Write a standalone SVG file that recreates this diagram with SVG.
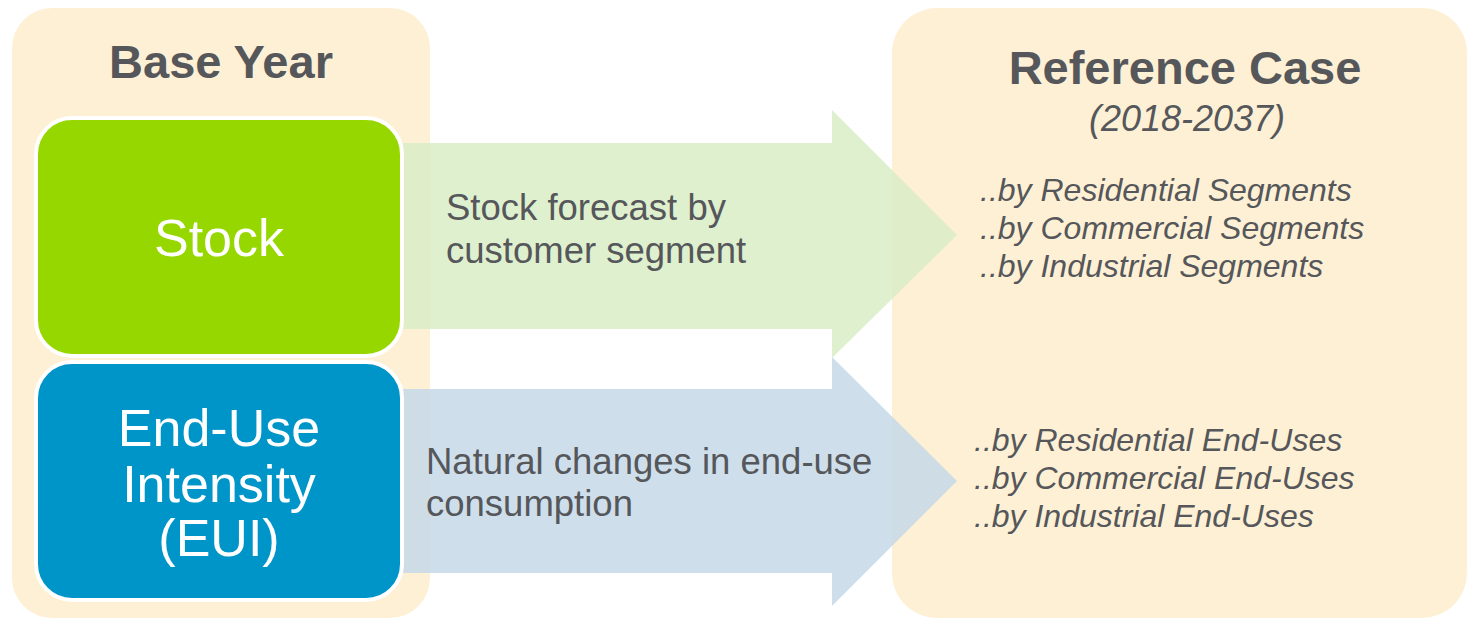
<svg xmlns="http://www.w3.org/2000/svg" width="1469" height="620" viewBox="0 0 1469 620">
<style>
.panel{fill:#FEF0D5}
.box{stroke:#FFFFFF;stroke-width:4}
.title{font-family:"Liberation Sans",Arial,sans-serif;font-weight:bold;font-size:47px;fill:#55575A;text-anchor:middle}
.boxlbl{font-family:"Liberation Sans",Arial,sans-serif;font-size:52px;fill:#FFFFFF;text-anchor:middle}
.arrlbl{font-family:"Liberation Sans",Arial,sans-serif;font-size:36.5px;fill:#55575A}
.item{font-family:"Liberation Sans",Arial,sans-serif;font-style:italic;font-size:32px;fill:#55575A}
.sub{font-family:"Liberation Sans",Arial,sans-serif;font-style:italic;font-size:36px;fill:#55575A;text-anchor:middle}
</style>
<rect width="1469" height="620" fill="#FFFFFF"/>
<g id="base-year">
<rect class="panel" x="12" y="8" width="418" height="610" rx="40"/>
<text class="title" x="221" y="78">Base Year</text>
</g>
<g id="reference-case">
<rect class="panel" x="892" y="8" width="575" height="610" rx="45"/>
</g>
<g id="connectors">
<path d="M400 143 H832 V110 L957 235 L832 358 V329 H400 Z" fill="#D9EDC6" fill-opacity="0.85"/>
<path d="M400 389 H832 V357 L957 481 L832 606 V573 H400 Z" fill="#C6D8E8" fill-opacity="0.85"/>
<text class="arrlbl" x="446" y="220">Stock forecast by</text>
<text class="arrlbl" x="446" y="263">customer segment</text>
<text class="arrlbl" x="426" y="474">Natural changes in end-use</text>
<text class="arrlbl" x="426" y="516">consumption</text>
</g>
<g id="stock">
<rect class="box" x="36" y="118" width="366" height="238" rx="36" fill="#97D700"/>
<text class="boxlbl" x="219" y="256">Stock</text>
</g>
<g id="eui">
<rect class="box" x="36" y="362" width="366" height="238" rx="36" fill="#0095C8"/>
<text class="boxlbl" x="219" y="446">End-Use</text>
<text class="boxlbl" x="219" y="502">Intensity</text>
<text class="boxlbl" x="219" y="556">(EUI)</text>
</g>
<g id="reference-case-text">
<text class="title" x="1185" y="84">Reference Case</text>
<text class="sub" x="1187" y="131">(2018-2037)</text>
<text class="item" x="980" y="201">..by Residential Segments</text>
<text class="item" x="980" y="239">..by Commercial Segments</text>
<text class="item" x="980" y="277">..by Industrial Segments</text>
<text class="item" x="974" y="451">..by Residential End-Uses</text>
<text class="item" x="974" y="489">..by Commercial End-Uses</text>
<text class="item" x="974" y="527">..by Industrial End-Uses</text>
</g>
</svg>
